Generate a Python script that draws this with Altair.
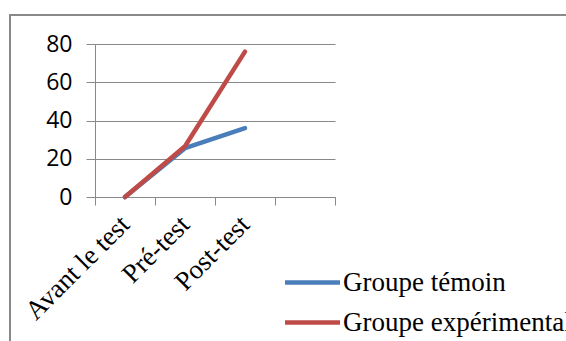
import altair as alt
import pandas as pd

# Test phases on the horizontal axis (a fourth empty slot follows them)
categories = ["Avant le test", "Pré-test", "Post-test"]
empty_slot = "_"

# Scores per group
series_names = ["Groupe témoin", "Groupe expérimental"]
temoin = [0, 25.5, 36]
experimental = [0, 26.5, 76]

y_ticks = [0, 20, 40, 60, 80]
colors = ["#4A7EBB", "#BE4B48"]

rows = []
for name, values in zip(series_names, [temoin, experimental]):
    for cat, v in zip(categories, values):
        rows.append({"phase": cat, "score": v, "groupe": name})
df = pd.DataFrame(rows)

GRAY = "#898989"
W, H = 240, 153

x_enc = alt.X(
    "phase:N",
    scale=alt.Scale(domain=categories + [empty_slot], paddingInner=0, paddingOuter=0),
    axis=alt.Axis(
        title=None,
        tickBand="extent",
        grid=False,
        ticks=True,
        tickSize=8,
        tickColor=GRAY,
        domainColor=GRAY,
        labelAngle=315,
        labelAlign="right",
        labelBaseline="middle",
        labelPadding=15,
        labelFont="Liberation Serif",
        labelFontSize=27,
        labelColor="black",
        labelExpr=f"datum.value == '{empty_slot}' ? '' : datum.value",
    ),
)
y_enc = alt.Y(
    "score:Q",
    scale=alt.Scale(domain=[0, 80], nice=False),
    axis=alt.Axis(
        title=None,
        values=y_ticks,
        grid=True,
        gridColor=GRAY,
        tickColor=GRAY,
        tickSize=9,
        domainColor=GRAY,
        labelPadding=14,
        labelFont="Open Sans",
        labelFontSize=23,
        labelColor="black",
    ),
)
# Long horizontal stroke as legend swatch
swatch = "M-2.5,0H2.5"
color_enc = alt.Color(
    "groupe:N",
    scale=alt.Scale(domain=series_names, range=colors),
    legend=alt.Legend(
        title=None,
        orient="none",
        legendX=204,
        legendY=225,
        symbolType=swatch,
        symbolSize=484,
        symbolStrokeWidth=4.5,
        symbolFillColor="transparent",
        labelFont="Liberation Serif",
        labelFontSize=27,
        labelColor="black",
        labelOffset=17,
        rowPadding=12,
        labelLimit=0,
    ),
)

base = alt.Chart(df)
line_t = base.transform_filter(alt.datum.groupe == series_names[0]).mark_line(
    strokeWidth=4.5, strokeCap="round", strokeJoin="round"
).encode(x=x_enc, y=y_enc, color=color_enc)
line_e = base.transform_filter(alt.datum.groupe == series_names[1]).mark_line(
    strokeWidth=4.5, strokeCap="round", strokeJoin="round"
).encode(x=x_enc, y=y_enc, color=color_enc)

# Outer chart frame
frame = alt.Chart(pd.DataFrame({"a": [0]})).mark_rect(
    fill=None, stroke=GRAY, strokeWidth=2
).encode(
    x=alt.value(-85), x2=alt.value(700), y=alt.value(-29), y2=alt.value(500)
)

chart = alt.layer(frame, line_t, line_e).properties(
    width=W,
    height=H,
    padding={"left": 95, "top": 44, "right": 231, "bottom": 144},
    autosize=alt.AutoSizeParams(type="none"),
    background="white",
).configure_view(stroke=None)

chart.save("out.html", embed_options={"renderer": "svg", "actions": False})
